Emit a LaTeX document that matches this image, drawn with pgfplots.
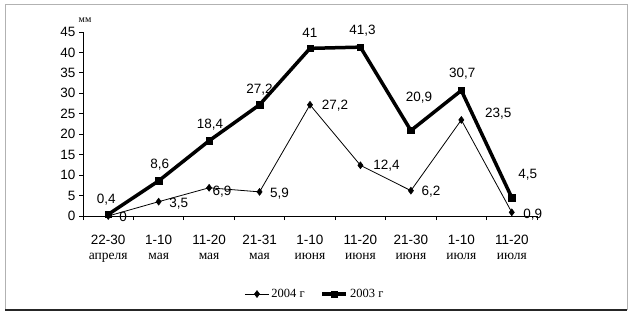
\documentclass[border=0pt]{standalone}
\usepackage{pgfplots}
\usepackage{pgfplotstable}
\pgfplotsset{compat=1.18}
\usepackage{fontspec}
\setmainfont{Liberation Serif}
\setsansfont{Liberation Sans}

\pgfplotstableread{
x y lab dx dy
0 0.4 0,4 -2 15
1 8.6 8,6 1 16
2 18.4 18,4 1 16
3 27.2 27,2 0 15
4 41 41 0 16
5 41.3 41,3 2 16
6 20.9 20,9 8 33
7 30.7 30,7 1 17
8 4.5 4,5 16 23
}\tabA

\pgfplotstableread{
x y lab dx dy
0 0 0 15 -1
1 3.5 3,5 20 -2
2 6.9 6,9 13 -4
3 5.9 5,9 20 -2
4 27.2 27,2 25 -1
5 12.4 12,4 26 0
6 6.2 6,2 20 -1
7 23.5 23,5 37 6
8 0.9 0,9 21 -2
}\tabB

\begin{document}
\begin{tikzpicture}[x=1pt,y=1pt]
\path[use as bounding box] (0,0) rectangle (632,316);
\draw[gray!60, line width=1pt] (5,6) rectangle (627,311);
\draw[black!85, line width=1.2pt] (5,6) -- (627,6);
\begin{axis}[
  at={(83pt,100pt)}, anchor=south west,
  scale only axis, width=454pt, height=184pt,
  xmin=-0.5, xmax=8.5, ymin=0, ymax=45,
  axis lines=left, axis line style={-, line width=0.8pt},
  xtick={-0.5,0.5,...,8.5},
  x tick label as interval=true,
  xticklabels={{\textsf{22-30}\\апреля},{\textsf{1-10}\\мая},{\textsf{11-20}\\мая},{\textsf{21-31}\\мая},{\textsf{1-10}\\июня},{\textsf{11-20}\\июня},{\textsf{21-30}\\июня},{\textsf{1-10}\\июля},{\textsf{11-20}\\июля}},
  xticklabel style={align=center, font=\fontsize{13.5}{15}\selectfont, yshift=-12pt},
  ytick={0,5,...,45},
  yticklabel style={font=\sffamily\fontsize{13.5}{15}\selectfont},
  /pgf/number format/assume math mode=true,
  tick align=outside, major tick length=4pt,
  tick style={black, line width=0.8pt},
  clip=false,
  legend columns=2,
  legend style={draw=none, fill=none, at={(0.511,-0.424)}, anchor=center,
    font=\fontsize{12.5}{14}\selectfont,
    /tikz/every even column/.append style={column sep=14pt}},
  legend image code/.code={\draw[mark repeat=2,mark phase=2,#1] plot coordinates {(0pt,0pt) (12pt,0pt) (24pt,0pt)};},
  nodes near coords={\pgfplotspointmeta},
  point meta=explicit symbolic,
  visualization depends on={\thisrow{dx} \as \dx},
  visualization depends on={\thisrow{dy} \as \dy},
  every node near coord/.append style={anchor=center, xshift=\dx pt, yshift=\dy pt,
    font=\sffamily\fontsize{13.5}{15}\selectfont, black},
]
\addplot[black, line width=0.8pt, mark=diamond*, mark size=3.5pt, mark options={solid, line width=0.5pt}]
  table[x=x, y=y, meta=lab] {\tabB};
\addlegendentry{2004 г}
\addplot[black, line width=3.5pt, mark=square*, mark size=3.2pt, mark options={solid, line width=0.5pt}]
  table[x=x, y=y, meta=lab] {\tabA};
\addlegendentry{2003 г}
\node[font=\fontsize{10}{12}\selectfont] at (rel axis cs:0,1) [xshift=2pt, yshift=12pt] {мм};
\end{axis}
\end{tikzpicture}
\end{document}
